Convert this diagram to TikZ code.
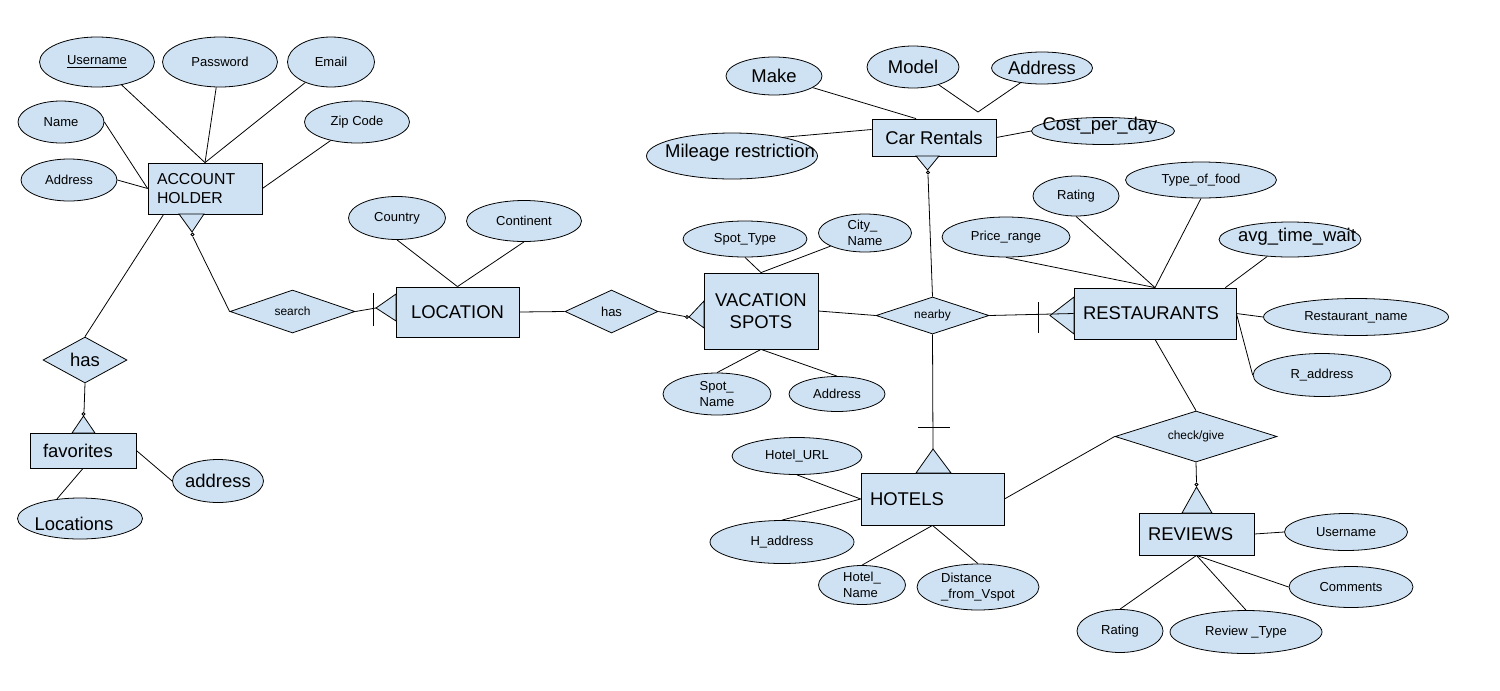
\documentclass[tikz,border=0pt]{standalone}
\usepackage{fontspec}
\setmainfont{Liberation Sans}
\usetikzlibrary{shapes.geometric,calc}
\definecolor{erblue}{HTML}{CFE2F3}
\newcommand{\attrfont}{\fontsize{7.4}{9}\selectfont}
\newcommand{\bigfont}{\fontsize{10.5}{12.3}\selectfont}
\newcommand{\relfont}{\fontsize{6.8}{8}\selectfont}
\newcommand{\ahfont}{\fontsize{9}{11}\selectfont}

\begin{document}
\begin{tikzpicture}[x=0.02cm, y=-0.02cm, line width=0.45pt,
	sz/.style 2 args={minimum width=#1cm, minimum height=#2cm},
	attr/.style={ellipse, draw, fill=erblue, inner xsep=-40pt, inner ysep=-12pt, font=\attrfont},
	entity/.style={rectangle, draw, fill=erblue, inner sep=0pt, align=center, font=\bigfont},
	rel/.style={diamond, draw, fill=erblue, aspect=2.5, inner sep=0pt, font=\attrfont},
	foot/.style={draw, fill=erblue},
	ring/.style={draw, fill=white}]
		\useasboundingbox (0,0) rectangle (1500,690);
		
		\node[entity, sz={2.28}{1.02}, align=left, text width=1.92cm, inner xsep=0.18cm, font=\ahfont] (ah) at (205,188.5) {ACCOUNT\\HOLDER};
		\node[attr, sz={2.30}{1.00}] (user) at (97,62) {\underline{Username}};
		\node[attr, sz={2.30}{1.00}] (pass) at (220,62) {Password};
		\node[attr, sz={1.74}{1.00}] (email) at (331,62) {Email};
		\node[attr, sz={1.72}{0.84}] (name) at (61,122) {Name};
		\node[attr, sz={1.92}{0.84}] (addr) at (69,180) {Address};
		\node[attr, sz={2.10}{0.84}] (zip) at (357,122) {Zip Code};
		
		\node[rel, sz={1.68}{0.92}, font=\bigfont] (has1) at (85,360) {has};
		\node[entity, sz={2.12}{0.70}, align=left, text width=1.60cm, inner xsep=0.26cm] (fav) at (83,450.5) {favorites};
		\node[attr, sz={1.82}{0.86}, font=\bigfont] (favaddr) at (218,481) {address};
		\node[attr, sz={2.50}{0.82}] (locs) at (80,518.5) {};
		\node[font=\bigfont] (locstxt) at (74,524) {Locations};
		
		\node[rel, sz={2.50}{0.86}, font=\relfont] (search) at (292.5,311.5) {search};
		\node[entity, sz={2.46}{1.00}] (loc) at (457.5,312) {LOCATION};
		\node[attr, sz={1.94}{0.86}] (country) at (397,218) {Country};
		\node[attr, sz={2.30}{0.82}] (continent) at (524,221) {Continent};
		\node[rel, sz={1.86}{0.86}] (has2) at (611.5,311.5) {has};
		
		\node[entity, sz={2.28}{1.52}] (vs) at (761,311) {VACATION\\SPOTS};
		\node[attr, sz={2.48}{0.72}] (spottype) at (745,239) {Spot\_Type};
		\node[attr, sz={1.86}{0.76}, align=left] (city) at (865,233) {City\_\\Name};
		\node[attr, sz={2.16}{0.84}, align=left] (spotname) at (717,394) {Spot\_\\Name};
		\node[attr, sz={1.92}{0.70}] (vsaddr) at (837,394) {Address};
		\node[rel, sz={2.26}{0.74}, font=\relfont] (nearby) at (932.5,315.5) {nearby};
		
		\node[entity, sz={2.48}{0.74}] (car) at (934,137.5) {Car Rentals};
		\node[attr, sz={1.92}{0.76}, font=\bigfont] (make) at (774,76) {Make};
		\node[attr, sz={1.84}{0.84}, font=\bigfont] (model) at (913,67) {Model};
		\node[attr, sz={2.02}{0.64}, font=\bigfont] (caraddr) at (1042,68) {Address};
		\node[attr, sz={3.42}{0.92}] (mile) at (732,156) {};
		\node[font=\bigfont] (miletxt) at (740,153) {Mileage restriction};
		\node[attr, sz={2.86}{0.54}] (cost) at (1103,131) {};
		\node[font=\bigfont] (costtxt) at (1100,126) {Cost\_per\_day};
		
		\node[entity, sz={3.24}{1.02}, align=left, text width=2.88cm, inner xsep=0.18cm] (rest) at (1155,313.5) {RESTAURANTS};
		\node[attr, sz={1.72}{0.80}] (rrating) at (1076,196) {Rating};
		\node[attr, sz={3.02}{0.72}] (typefood) at (1201,180) {Type\_of\_food};
		\node[attr, sz={2.56}{0.80}] (price) at (1006,237) {Price\_range};
		\node[attr, sz={2.84}{0.70}] (avg) at (1290,239.5) {};
		\node[font=\bigfont] (avgtxt) at (1297,237) {avg\_time\_wait};
		\node[attr, sz={3.70}{0.74}] (rname) at (1356,317) {Restaurant\_name};
		\node[attr, sz={2.76}{0.86}] (raddr) at (1322,375) {R\_address};
		
		\node[rel, sz={3.24}{1.02}, font=\relfont] (check) at (1196,436.5) {check/give};
		\node[entity, sz={2.86}{1.04}, align=left, text width=2.50cm, inner xsep=0.18cm] (hotel) at (932.5,499) {HOTELS};
		\node[attr, sz={2.60}{0.74}] (hurl) at (797,456) {Hotel\_URL};
		\node[attr, sz={2.88}{0.86}] (haddr) at (782,542) {H\_address};
		\node[attr, sz={1.74}{0.78}, align=left] (hname) at (862,585) {Hotel\_\\Name};
		\node[attr, sz={2.44}{0.92}, align=left] (dist) at (978,587) {Distance\\\_from\_Vspot};
		
		\node[entity, sz={2.30}{0.84}, align=left, text width=1.94cm, inner xsep=0.18cm] (rev) at (1196.5,534) {REVIEWS};
		\node[attr, sz={2.46}{0.74}] (runame) at (1346,532) {Username};
		\node[attr, sz={2.48}{0.82}] (comments) at (1351,587) {Comments};
		\node[attr, sz={1.72}{0.86}] (revrating) at (1120,631) {Rating};
		\node[attr, sz={3.04}{0.86}] (revtype) at (1246,632) {Review \_Type};
		
		\coordinate (ahs) at ($(ah.south west)+(16,0)$);
		\coordinate (ahfoot) at (193,237);
		\coordinate (favfoot) at (84,412);
		\coordinate (locfoot) at (376,308);
		\coordinate (vsfoot) at (685,316.5);
		\coordinate (carfoot) at (928,175);
		\coordinate (carjoin) at (978,112);
		\coordinate (hotfoot) at (933,449);
		\coordinate (revfoot) at (1196.5,482);
		
		\draw (user) -- (ah.north);
		\draw (pass) -- (ah.north);
		\draw (email) -- (ah.north);
		\draw (name.east) -- (ah.west);
		\draw (addr.east) -- (ah.west);
		\draw (zip) -- (ah.east);
		\draw (ahs) -- (has1.north);
		\draw (has1.south) -- (favfoot);
		\draw (fav.east) -- (favaddr.west);
		\draw (fav.south) -- (locs.140);
		
		\filldraw[foot] (179,214) -- (192,232) -- (204,214) -- cycle;
		\draw[ring] (192.5,234.5) circle (0.03cm);
		\filldraw[foot] (72,433) -- (83.5,416) -- (95,433) -- cycle;
		\draw[ring] (83.5,414) circle (0.03cm);
		\draw (ahfoot) -- (search.west);
		\draw (search.east) -- (locfoot);
		\filldraw[foot] (396,294) -- (376,308) -- (396,321) -- cycle;
		\draw (373,293) -- (373,326);
		
		\draw (country.south) -- (loc.north);
		\draw (continent.south) -- (loc.north);
		\draw (loc.east) -- (has2.west);
		\draw (has2.east) -- (vsfoot);
		\filldraw[foot] (704,301) -- (689,317) -- (704,328) -- cycle;
		\draw[ring] (687,317) circle (0.03cm);
		
		\draw (spottype.south) -- (vs.north);
		\draw (city) -- (vs.north);
		\draw (vs.south) -- (spotname.north);
		\draw (vs.south) -- (vsaddr.north);
		\draw (vs.east) -- (nearby.west);
		
		\draw (make) -- ($(car.north)+(-18,0)$);
		\draw (model) -- (carjoin) -- (caraddr);
		\draw (mile.20) -- ($(car.west)+(0,-8)$);
		\draw (car.east) -- (cost.west);
		\filldraw[foot] (916,156) -- (927.5,170) -- (939,156) -- cycle;
		\draw[ring] (928,172.5) circle (0.03cm);
		\draw (carfoot) -- (nearby.north);
		
		\draw (price.south) -- (rest.north);
		\draw (rrating.south) -- (rest.north);
		\draw (typefood.south) -- (rest.north);
		\draw (avg) -- ($(rest.north east)+(-11,0)$);
		\draw (rest.east) -- (rname.west);
		\draw (rest.east) -- (raddr.west);
		\filldraw[foot] (1074,297) -- (1050,315.5) -- (1074,334) -- cycle;
		\draw (1038,302) -- (1038,333);
		\draw (nearby.east) -- (rest.west);
		
		\draw (nearby.south) -- (hotfoot);
		\draw (918,427) -- (950,427);
		\filldraw[foot] (916,473) -- (933,449) -- (951,473) -- cycle;
		\draw (hurl.south) -- (hotel.west);
		\draw (haddr.north) -- (hotel.west);
		\draw (hotel.south) -- (hname.north);
		\draw (hotel.south) -- (dist.north);
		\draw (hotel.east) -- (check.west);
		
		\draw (rest.south) -- (check.north);
		\draw (check.south) -- (revfoot);
		\filldraw[foot] (1182,513) -- (1196.5,487) -- (1212,513) -- cycle;
		\draw[ring] (1196.5,484.5) circle (0.03cm);
		\draw (rev.east) -- (runame.west);
		\draw (rev.south) -- (comments.west);
		\draw (rev.south) -- (revrating.north);
		\draw (rev.south) -- (revtype.north);
	\end{tikzpicture}
\end{document}
